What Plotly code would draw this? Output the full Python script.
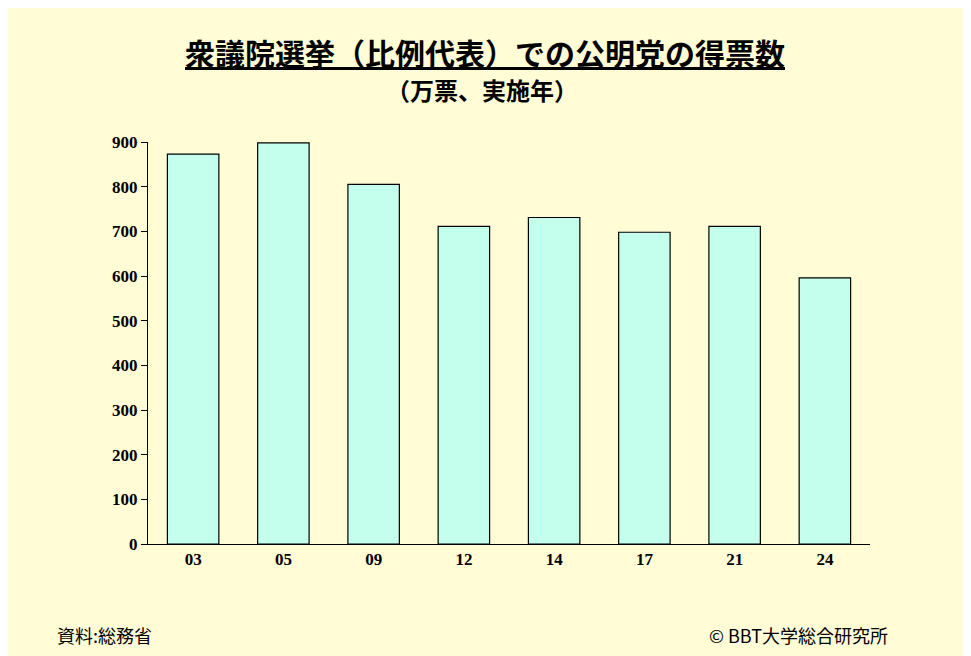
import plotly.graph_objects as go

years = ["03", "05", "09", "12", "14", "17", "21", "24"]
votes = [873, 898, 805, 711, 731, 698, 711, 596]

W, H = 971, 656
L, R, T, B = 140, 109, 134, 120
pw, ph = W - L - R, H - T - B


def px(x):
    return (x - 8 - L) / pw


def py(y):
    return 1 + (T - (y - 8)) / ph


fig = go.Figure()
fig.add_trace(go.Bar(x=years, y=votes, marker=dict(color="#c4ffee", line=dict(color="black", width=1.2))))

fig.update_layout(
    width=W,
    height=H,
    paper_bgcolor="#fffcd6",
    plot_bgcolor="rgba(0,0,0,0)",
    showlegend=False,
    bargap=0.43,
    margin=dict(l=L, r=R, t=T, b=B),
    font=dict(family="Noto Sans CJK JP", color="black"),
)
tf = dict(family="Liberation Serif", size=17, weight="bold")
fig.update_xaxes(showline=True, linecolor="black", ticks="", showgrid=False, tickfont=tf)
fig.update_yaxes(
    range=[0, 900], dtick=100, showline=True, linecolor="black",
    ticks="outside", ticklen=6, tickcolor="black", showgrid=False, zeroline=False,
    tickfont=tf,
)
notes = [
    ("<b><u>衆議院選挙（比例代表）での公明党の得票数</u></b>", 485, 52, 30, "center"),
    ("<b>（万票、実施年）</b>", 482, 90, 24, "center"),
    ("資料:総務省", 55, 635, 18, "left"),
    ("© BBT大学総合研究所", 890, 635, 18, "right"),
]
for text, x, y, size, anchor in notes:
    fig.add_annotation(text=text, x=px(x), y=py(y), xref="paper", yref="paper",
                       showarrow=False, font=dict(size=size), xanchor=anchor, yanchor="middle")

fig.write_html("out.html")
